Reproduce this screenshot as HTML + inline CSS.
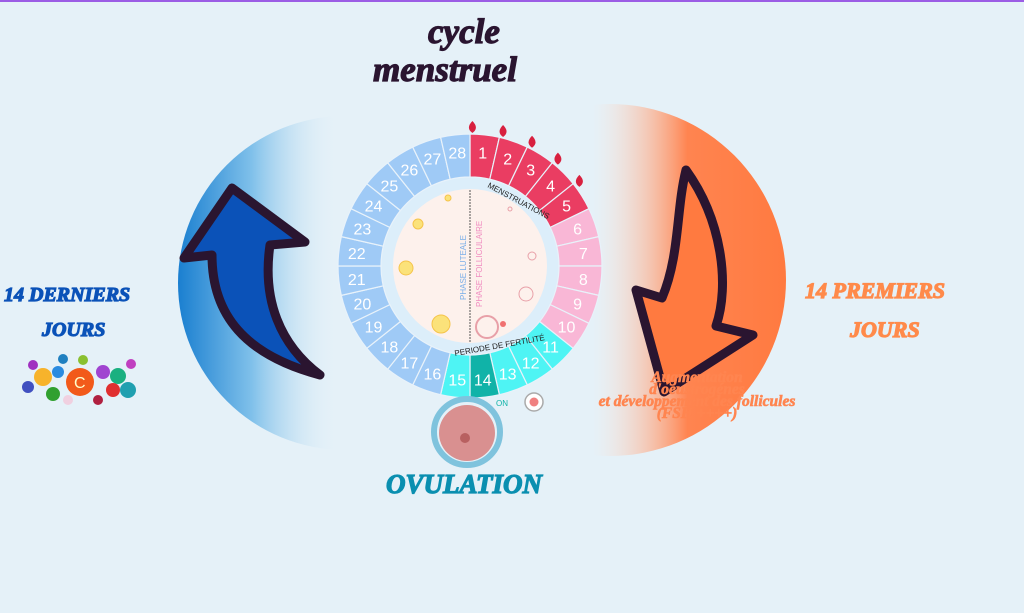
<!DOCTYPE html>
<html><head><meta charset="utf-8"><style>
html,body{margin:0;padding:0;width:1024px;height:613px;overflow:hidden;background:#e5f1f8;font-family:"Liberation Serif",serif}
.t{position:absolute;font-weight:bold;font-style:italic;white-space:nowrap;-webkit-text-stroke:1.2px currentColor}
</style></head><body>
<div style="position:absolute;left:0;top:0;width:1024px;height:2px;background:#9b5de5"></div>
<svg width="1024" height="613" style="position:absolute;left:0;top:0">
<defs>
<linearGradient id="lg" x1="0" x2="1" y1="0" y2="0">
<stop offset="0" stop-color="#1a7fd0"/><stop offset="0.22" stop-color="#7fc0ea"/><stop offset="0.48" stop-color="#e5f1f8" stop-opacity="0"/></linearGradient>
<linearGradient id="rg" x1="1" x2="0" y1="0" y2="0">
<stop offset="0" stop-color="#ff7a40"/><stop offset="0.28" stop-color="#ff8450"/><stop offset="0.55" stop-color="#ffe0d0" stop-opacity="0"/></linearGradient>
</defs>
<circle cx="345" cy="283" r="167" fill="url(#lg)"/>
<circle cx="610" cy="280" r="176" fill="url(#rg)"/>
<path d="M320,375 C280,345 262,300 270,245 L305,242 L232,188 L184,258 L212,255 C212,315 245,355 320,375 Z" fill="#0b52b8" stroke="#2a1530" stroke-width="9" stroke-linejoin="round"/>
<path d="M686,170 C722,220 730,285 716,326 L753,335 L664,392 L636,290 L662,298 C680,255 676,210 686,170 Z" fill="#ff7a40" stroke="#2a1530" stroke-width="9" stroke-linejoin="round"/>
<g id="wheel"></g>
<circle cx="467" cy="432" r="33" fill="#e5f1f8" stroke="#7fc3dd" stroke-width="6"/>
<circle cx="467" cy="433" r="28" fill="#d99090"/>
<circle cx="465" cy="438" r="5" fill="#b86060"/>
<circle cx="534" cy="402" r="9" fill="#fff" stroke="#aaa" stroke-width="1.5"/>
<circle cx="534" cy="402" r="4.5" fill="#f08080"/>
<text x="496" y="406" font-family="Liberation Sans" font-size="8" fill="#10b3a8">ON</text>
</svg>
<div class="t" style="left:428px;top:14px;font-size:35px;color:#2a1530;line-height:36px">cycle</div>
<div class="t" style="left:373px;top:52px;font-size:35px;color:#2a1530;line-height:36px">menstruel</div>
<div class="t" style="left:4px;top:284px;font-size:20px;color:#0b52b8">14 DERNIERS</div>
<div class="t" style="left:42px;top:319px;font-size:20px;color:#0b52b8">JOURS</div>
<div class="t" style="left:805px;top:278px;font-size:22px;color:#ff8a4a">14 PREMIERS</div>
<div class="t" style="left:850px;top:317px;font-size:22px;color:#ff8a4a">JOURS</div>
<div class="t" style="left:386px;top:469px;font-size:27px;color:#0a8fb0">OVULATION</div>
<div class="t" style="left:572px;top:372px;width:250px;text-align:center;font-size:15.5px;line-height:12px;color:#ff8550;-webkit-text-stroke:0.6px #ff8550">Augmentation<br>d'oeustrogénes<br>et développement des follicules<br>(FSH ++++)</div>
<svg width="130" height="60" style="position:absolute;left:18px;top:352px">
<circle cx="62" cy="30" r="14" fill="#f25a1a"/><text x="56" y="36" font-size="16" fill="#ffc" font-family="Liberation Sans">C</text>
<circle cx="25" cy="25" r="9" fill="#f7b32b"/><circle cx="40" cy="20" r="6" fill="#2a8be0"/>
<circle cx="85" cy="20" r="7" fill="#a044d0"/><circle cx="100" cy="24" r="8" fill="#1ab080"/>
<circle cx="95" cy="38" r="7" fill="#e03030"/><circle cx="110" cy="38" r="8" fill="#20a0b0"/>
<circle cx="10" cy="35" r="6" fill="#4050c0"/><circle cx="35" cy="42" r="7" fill="#30a030"/>
<circle cx="65" cy="8" r="5" fill="#8ac030"/><circle cx="45" cy="7" r="5" fill="#2080c0"/>
<circle cx="15" cy="13" r="5" fill="#a030c0"/><circle cx="113" cy="12" r="5" fill="#c040c0"/>
<circle cx="50" cy="48" r="5" fill="#f0d0e0"/><circle cx="80" cy="48" r="5" fill="#b02040"/>
</svg>
<script>
var g=document.getElementById('wheel'),cx=470,cy=266,R=132,r=89,h='';
function p(a,rad){a=(a-90)*Math.PI/180;return [cx+rad*Math.cos(a),cy+rad*Math.sin(a)];}
h+='<circle cx="'+cx+'" cy="'+cy+'" r="'+r+'" fill="#dceefa"/>';
for(var i=0;i<28;i++){var a0=i*360/28,a1=(i+1)*360/28,d=i+1;
var c=d<=5?'#ea3d62':d<=10?'#f9b7d6':d==14?'#10b3a8':d<=15?'#4ef4f4':'#9fcaf6';
var A=p(a0,R),B=p(a1,R),C=p(a1,r),D=p(a0,r);
h+='<path d="M'+A+' A'+R+','+R+' 0 0 1 '+B+' L'+C+' A'+r+','+r+' 0 0 0 '+D+'Z" fill="'+c+'" stroke="#e8f2fa" stroke-width="1.2"/>';
var m=p((a0+a1)/2,114);h+='<text x="'+m[0]+'" y="'+(m[1]+6)+'" text-anchor="middle" font-family="Liberation Sans" font-size="16" fill="#fff">'+d+'</text>';
if(d<=5){var q=p(a0+1,138);h+='<path d="M'+q[0]+','+(q[1]-7)+' q7,7 0,12 q-7,-5 0,-12z" fill="#d8203f"/>';}}
h+='<circle cx="'+cx+'" cy="'+cy+'" r="77" fill="#fdf1ec"/>';
h+='<line x1="470" y1="190" x2="470" y2="343" stroke="#555" stroke-dasharray="2,1"/>';
h+='<text transform="translate(466,300) rotate(-90)" font-family="Liberation Sans" font-size="8" fill="#7aaee8">PHASE  LUTEALE</text>';
h+='<text transform="translate(482,307) rotate(-90)" font-family="Liberation Sans" font-size="8" fill="#f08cc0">PHASE  FOLLICULAIRE</text>';
h+='<text x="487" y="187" transform="rotate(28 487 187)" font-family="Liberation Sans" font-size="8" fill="#222">MENSTRUATIONS</text>';
h+='<text x="455" y="356" transform="rotate(-10 455 356)" font-family="Liberation Sans" font-size="8" fill="#222">PERIODE DE FERTILITÉ</text>';
[[448,198,3],[418,224,5],[406,268,7],[441,324,9]].forEach(function(o){h+='<circle cx="'+o[0]+'" cy="'+o[1]+'" r="'+o[2]+'" fill="#fbe27a" stroke="#f5c44a"/>';});
[[510,209,2],[532,256,4],[526,294,7]].forEach(function(o){h+='<circle cx="'+o[0]+'" cy="'+o[1]+'" r="'+o[2]+'" fill="none" stroke="#e8a0a8"/>';});
h+='<circle cx="487" cy="327" r="11" fill="#fdf1ec" stroke="#e8a0a8" stroke-width="2"/><circle cx="503" cy="324" r="3" fill="#f07070"/>';
g.innerHTML=h;
</script>
</body></html>
